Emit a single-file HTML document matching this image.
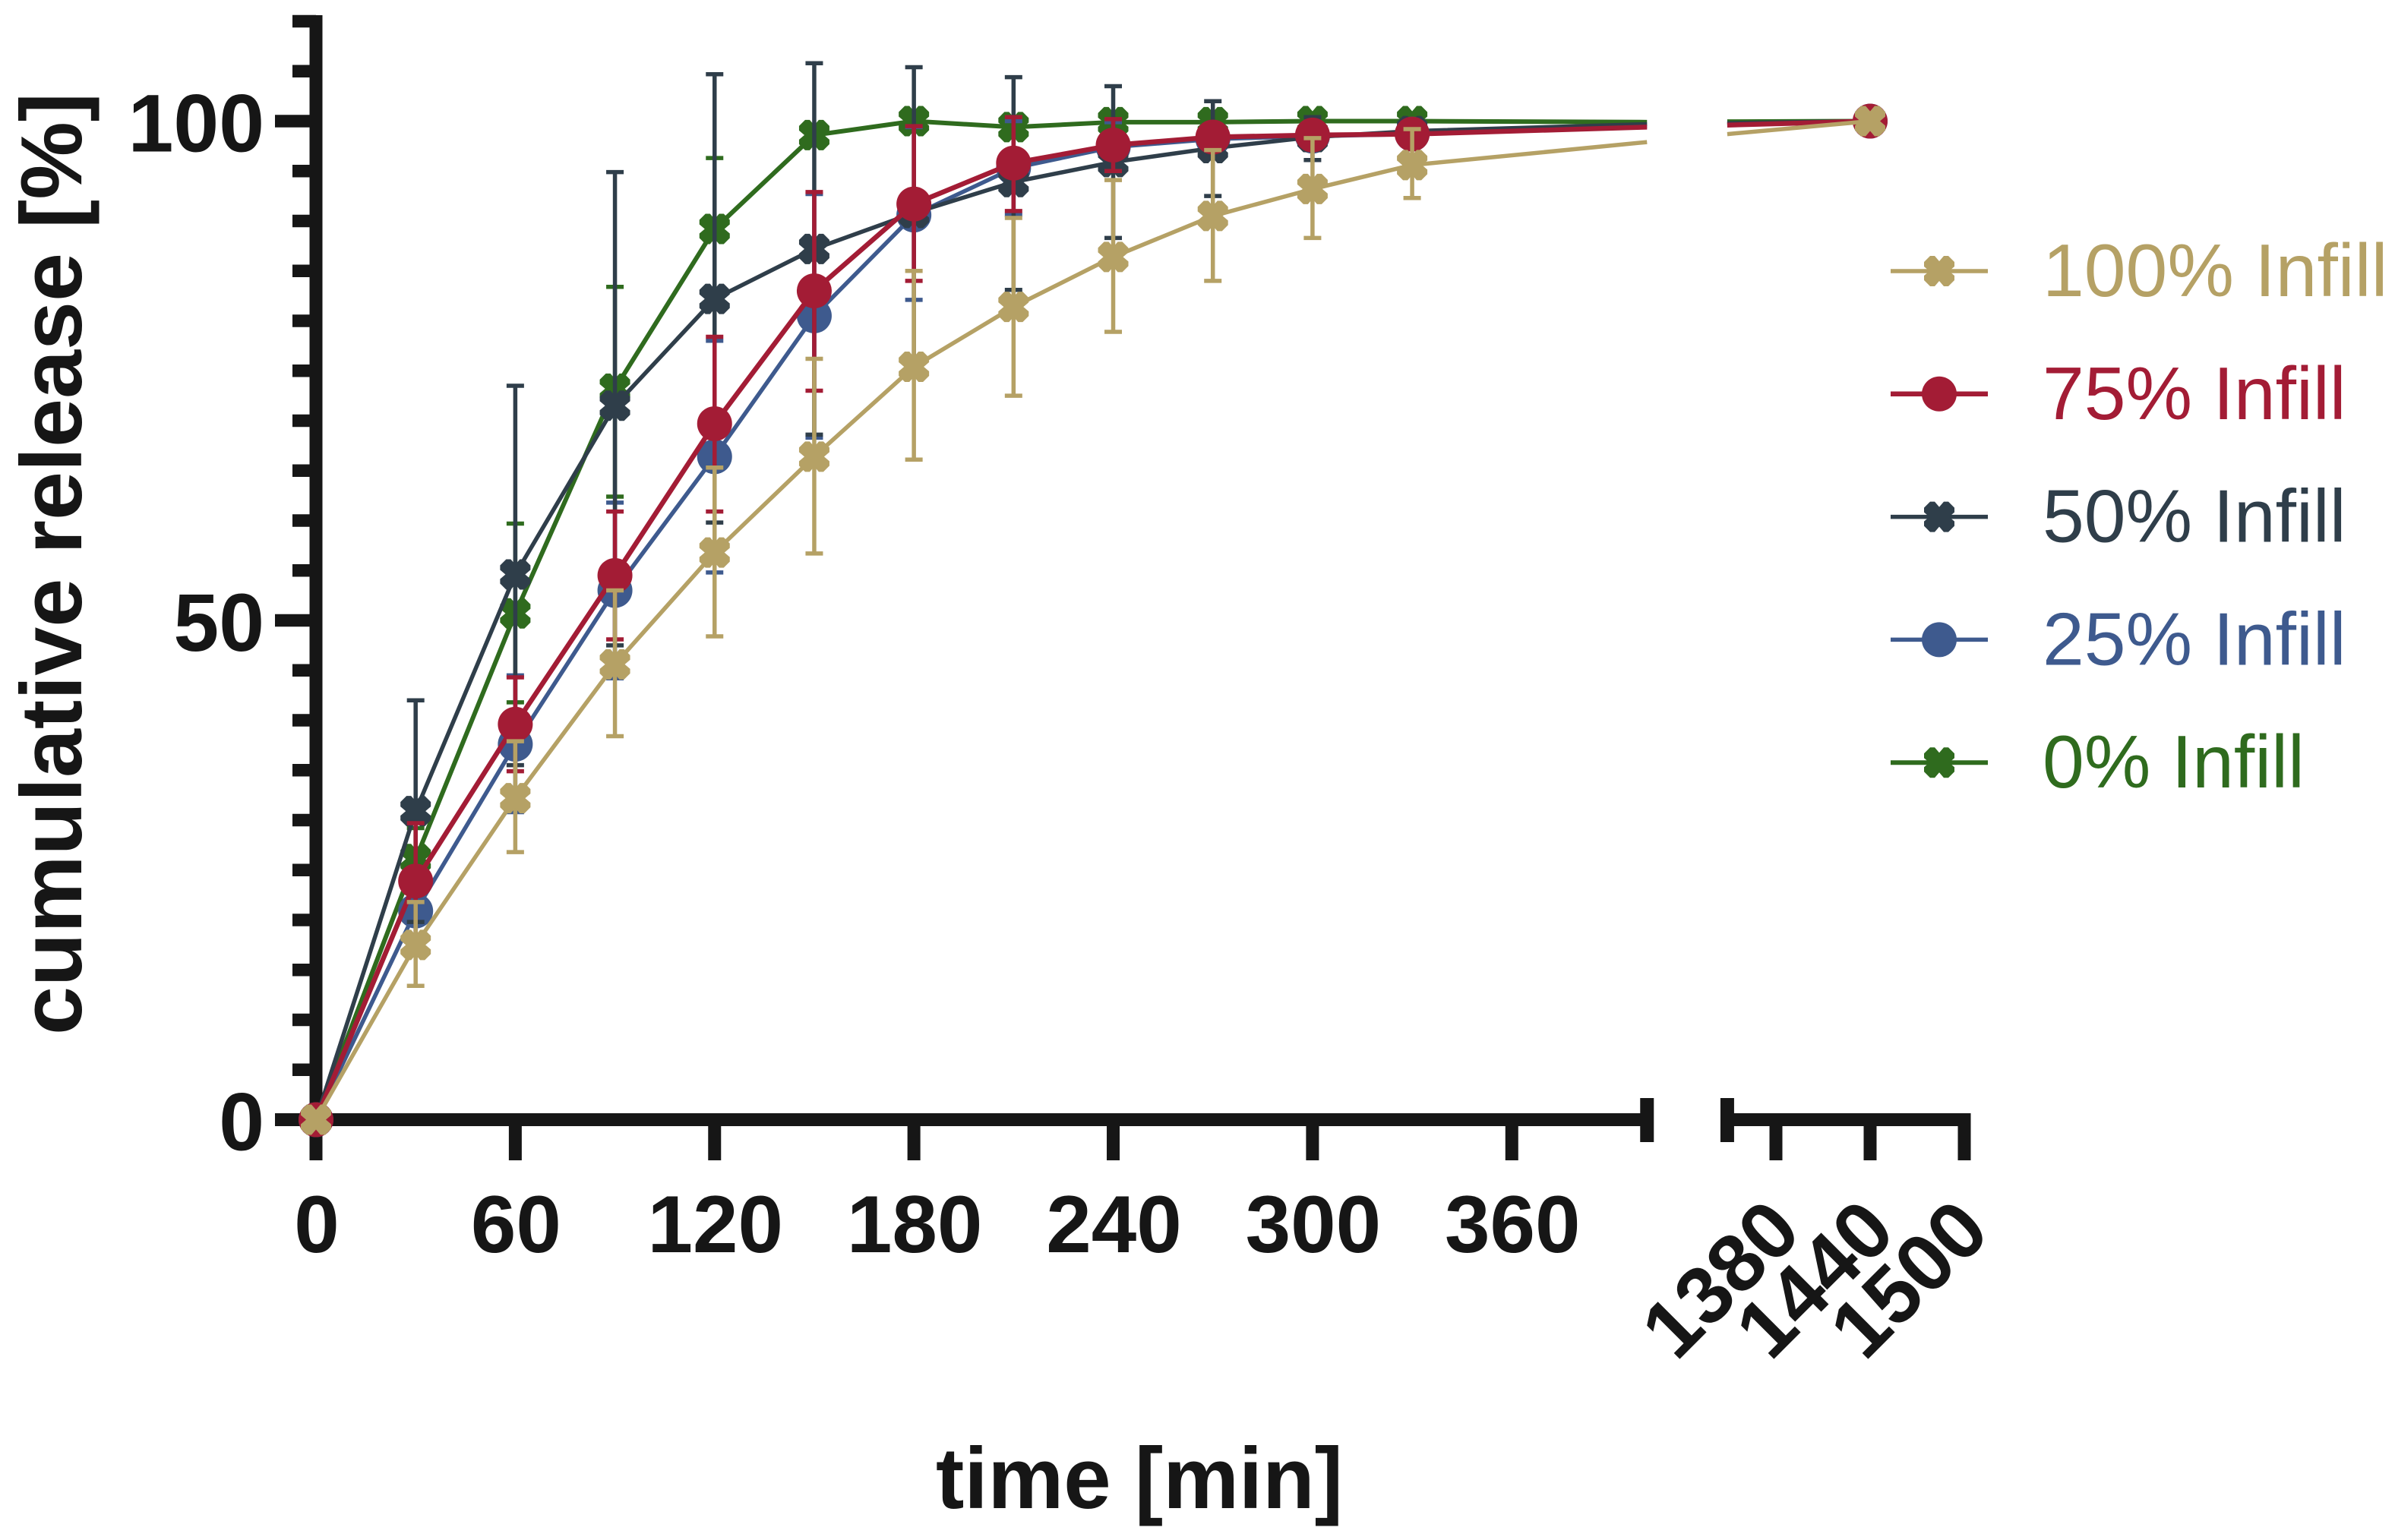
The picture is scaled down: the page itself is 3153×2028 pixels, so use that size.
<!DOCTYPE html>
<html lang="en">
<head>
<meta charset="utf-8">
<title>Cumulative release over time</title>
<style>
html,body{margin:0;padding:0;background:#fff;}
svg{display:block;}
text{font-family:"Liberation Sans",Arial,sans-serif;}
</style>
</head>
<body>
<svg id="chart" xmlns="http://www.w3.org/2000/svg" width="3153" height="2028" viewBox="0 0 3153 2028">
<rect width="3153" height="2028" fill="#ffffff"/>
<g id="axes"></g>
<g id="series"></g>
<g id="legend"></g>
<text transform="translate(107 1363) rotate(-90)" font-size="114" font-weight="700" fill="#161616" textLength="1241" lengthAdjust="spacingAndGlyphs">cumulative release [%]</text>
<text x="1232" y="1986" font-size="114" font-weight="700" fill="#161616" textLength="536" lengthAdjust="spacingAndGlyphs">time [min]</text>
</svg>
<script>
// Data
const times = [0, 30, 60, 90, 120, 150, 180, 210, 240, 270, 300, 330, 1440];
const seriesNames = ['0% Infill', '25% Infill', '50% Infill', '75% Infill', '100% Infill'];
const seriesKeys = ['infill-0', 'infill-25', 'infill-50', 'infill-75', 'infill-100'];
const seriesColors = ['#2f6b1e', '#3e5a8e', '#2f3e4a', '#a31c35', '#b5a165'];
const seriesMarkers = ['x', 'circle', 'x', 'circle', 'x'];
const seriesLineWidths = [6, 5.5, 5.5, 6.5, 5.5];

const infill0 = [0, 26.1, 50.7, 73.2, 89.2, 98.6, 100, 99.4, 99.9, 99.9, 100, 100, 100];
const infill0High = [0, 29.2, 59.7, 83.4, 96.3, 99.6, 100.4, 99.8, 100.2, 100.1, 100.1, 100.1, 100];
const infill0Low = [0, 23, 41.8, 62.4, 82.7, 97.8, 99.8, 99, 99.6, 99.7, 99.9, 99.9, 100];

const infill25 = [0, 20.9, 37.6, 53, 66.4, 80.5, 90.6, 95.3, 97.4, 98.2, 98.5, 98.7, 100];
const infill25High = [0, 24.5, 44.5, 61.8, 78, 92.7, 99.4, 100, 99.9, 99.5, 99.2, 99, 100];
const infill25Low = [0, 17.3, 30.8, 44.2, 54.8, 68.3, 82.1, 90.6, 94.9, 96.9, 97.8, 98.4, 100];

const infill50 = [0, 30.9, 54.6, 71.5, 82.2, 87.2, 90.8, 93.9, 95.9, 97.3, 98.4, 99, 100];
const infill50High = [0, 42, 73.5, 94.9, 104.7, 105.8, 105.4, 104.4, 103.5, 102, 100.4, 99.6, 100];
const infill50Low = [0, 19.8, 35.5, 47.5, 59.8, 68.6, 76, 83.1, 88.3, 92.5, 96.1, 98.4, 100];

const infill75 = [0, 23.9, 39.6, 54.5, 69.7, 83, 91.7, 95.8, 97.6, 98.4, 98.6, 98.7, 100];
const infill75High = [0, 29.7, 44.3, 60.9, 78.4, 92.9, 99.5, 100.4, 100.2, 99.7, 99.4, 99.2, 100];
const infill75Low = [0, 18.1, 34.9, 48.1, 60.9, 73, 84, 91, 95, 97.1, 97.8, 98.2, 100];

const infill100 = [0, 17.5, 32.2, 45.6, 56.8, 66.4, 75.4, 81.4, 86.4, 90.5, 93.2, 95.6, 100];
const infill100High = [0, 21.8, 37.9, 53, 65.3, 76.2, 85, 90.3, 94.1, 97.1, 98.3, 99.2, 100];
const infill100Low = [0, 13.4, 26.8, 38.4, 48.4, 56.7, 66.1, 72.5, 78.9, 84, 88.3, 92.3, 100];

// Where each line meets the two sides of the x-axis break
const breakLeftValues = [99.9, 99.5, 99.7, 99.4, 97.9];
const breakRightValues = [99.95, 99.7, 99.8, 99.6, 98.7];

const yMajorTicks = [0, 50, 100];
const yAxisTop = 110;
const yMinorStep = 5;
const xTicksLeft = [0, 60, 120, 180, 240, 300, 360];
const xTicksRight = [1380, 1440, 1500];
const breakLeftTime = 400.7;
const breakRightTime = 1349;
const axisEndTime = 1500;

const allMeans = [infill0, infill25, infill50, infill75, infill100];
const allHigh = [infill0High, infill25High, infill50High, infill75High, infill100High];
const allLow = [infill0Low, infill25Low, infill50Low, infill75Low, infill100Low];

const NS = 'http://www.w3.org/2000/svg';
const AXIS = '#161616';
function xScale(t) {
  return t <= breakLeftTime ? 416 + t * 4.373 : 2462 + (t - 1440) * 2.0667;
}
function yScale(v) {
  return 1474.5 - v * 13.15;
}
function make(tag, attrs, parent) {
  const el = document.createElementNS(NS, tag);
  for (const k in attrs) el.setAttribute(k, attrs[k]);
  parent.appendChild(el);
  return el;
}
function xMarkerPoints(cx, cy) {
  const q = [[0,-13],[6,-20],[12,-20],[20,-12],[20,-6],[13,0],[20,6],[20,12],[12,20],[6,20],[0,13],[-6,20],[-12,20],[-20,12],[-20,6],[-13,0],[-20,-6],[-20,-12],[-12,-20],[-6,-20]];
  return q.map(p => (cx + p[0]) + ',' + (cy + p[1])).join(' ');
}
function drawMarker(kind, cx, cy, color, parent) {
  if (kind === 'circle') {
    return make('circle', {cx: cx, cy: cy, r: 23, fill: color}, parent);
  }
  return make('polygon', {points: xMarkerPoints(cx, cy), fill: color}, parent);
}

// Axes
const axes = document.getElementById('axes');
const yLine = make('line', {x1: 416, x2: 416, y1: yScale(yAxisTop) - 8, y2: 1528, stroke: AXIS, 'stroke-width': 17}, axes);


for (let v = 0; v <= yAxisTop; v += yMinorStep) {
  const major = yMajorTicks.includes(v);
  const tick = make('line', {x1: major ? 362 : 385, x2: 416, y1: yScale(v), y2: yScale(v), stroke: AXIS, 'stroke-width': 16.5}, axes);
  
  
}
yMajorTicks.forEach(v => {
  const label = make('text', {x: 348, y: yScale(v) + 40, 'font-size': 107.5, 'font-weight': 700, fill: AXIS, 'text-anchor': 'end'}, axes);
  
  
  label.textContent = v;
});
const xLineLeft = make('line', {x1: 362, x2: xScale(breakLeftTime), y1: 1474.5, y2: 1474.5, stroke: AXIS, 'stroke-width': 17}, axes);


const xLineRight = make('line', {x1: xScale(breakRightTime), x2: xScale(axisEndTime) + 8.5, y1: 1474.5, y2: 1474.5, stroke: AXIS, 'stroke-width': 17}, axes);


[breakLeftTime, breakRightTime].forEach(t => {
  const cap = make('line', {x1: xScale(t), x2: xScale(t), y1: 1446, y2: 1504, stroke: AXIS, 'stroke-width': 18}, axes);
  
  
});
xTicksLeft.concat(xTicksRight).forEach(t => {
  const tick = make('line', {x1: xScale(t), x2: xScale(t), y1: 1474.5, y2: 1528, stroke: AXIS, 'stroke-width': 17}, axes);
  
  
});
xTicksLeft.forEach(t => {
  const label = make('text', {x: xScale(t) + 1, y: 1649, 'font-size': 107, 'font-weight': 700, fill: AXIS, 'text-anchor': 'middle'}, axes);
  
  
  label.textContent = t;
});
xTicksRight.forEach(t => {
  const ax = xScale(t) + 37;
  const label = make('text', {transform: 'translate(' + ax + ' 1626) rotate(-45)', 'font-size': 107, 'font-weight': 700, fill: AXIS, 'text-anchor': 'end'}, axes);
  
  
  label.textContent = t;
});

// Series, drawn back to front
const seriesRoot = document.getElementById('series');
seriesKeys.forEach((key, s) => {
  const color = seriesColors[s];
  const lineWidth = seriesLineWidths[s];
  const group = make('g', {}, seriesRoot);
  
  
  const means = allMeans[s];
  times.forEach((t, i) => {
    if (allHigh[s][i] === allLow[s][i]) return;
    const x = xScale(t);
    const yHi = yScale(allHigh[s][i]);
    const yLo = yScale(allLow[s][i]);
    const bar = make('path', {
      d: 'M' + x + ' ' + yHi + 'V' + yLo + 'M' + (x - 11.5) + ' ' + yHi + 'H' + (x + 11.5) + 'M' + (x - 11.5) + ' ' + yLo + 'H' + (x + 11.5),
      fill: 'none', stroke: color, 'stroke-width': 5.5
    }, group);
    
    
  });
  const leftPts = times.slice(0, -1).map((t, i) => xScale(t) + ',' + yScale(means[i]));
  leftPts.push(xScale(breakLeftTime) + ',' + yScale(breakLeftValues[s]));
  const leftLine = make('polyline', {points: leftPts.join(' '), fill: 'none', stroke: color, 'stroke-width': lineWidth, 'stroke-linejoin': 'round'}, group);
  
  
  const last = times.length - 1;
  const rightPts = [xScale(breakRightTime) + ',' + yScale(breakRightValues[s]), xScale(times[last]) + ',' + yScale(means[last])];
  const rightLine = make('polyline', {points: rightPts.join(' '), fill: 'none', stroke: color, 'stroke-width': lineWidth}, group);
  
  
  times.forEach((t, i) => {
    const marker = drawMarker(seriesMarkers[s], xScale(t), yScale(means[i]), color, group);
    
    
  });
});

// Legend: last series is listed first
const legendRoot = document.getElementById('legend');
const legendOrder = [4, 3, 2, 1, 0];
legendOrder.forEach((s, row) => {
  const y = 357 + row * 161.8;
  const entry = make('g', {}, legendRoot);
  
  
  const swatch = make('line', {x1: 2489, x2: 2617, y1: y, y2: y, stroke: seriesColors[s], 'stroke-width': seriesLineWidths[s]}, entry);
  
  
  const marker = drawMarker(seriesMarkers[s], 2553, y, seriesColors[s], entry);
  
  
  const label = make('text', {x: 2689, y: y + 33, 'font-size': 98.5, fill: seriesColors[s]}, entry);
  
  
  label.textContent = seriesNames[s];
});
</script>
</body>
</html>
